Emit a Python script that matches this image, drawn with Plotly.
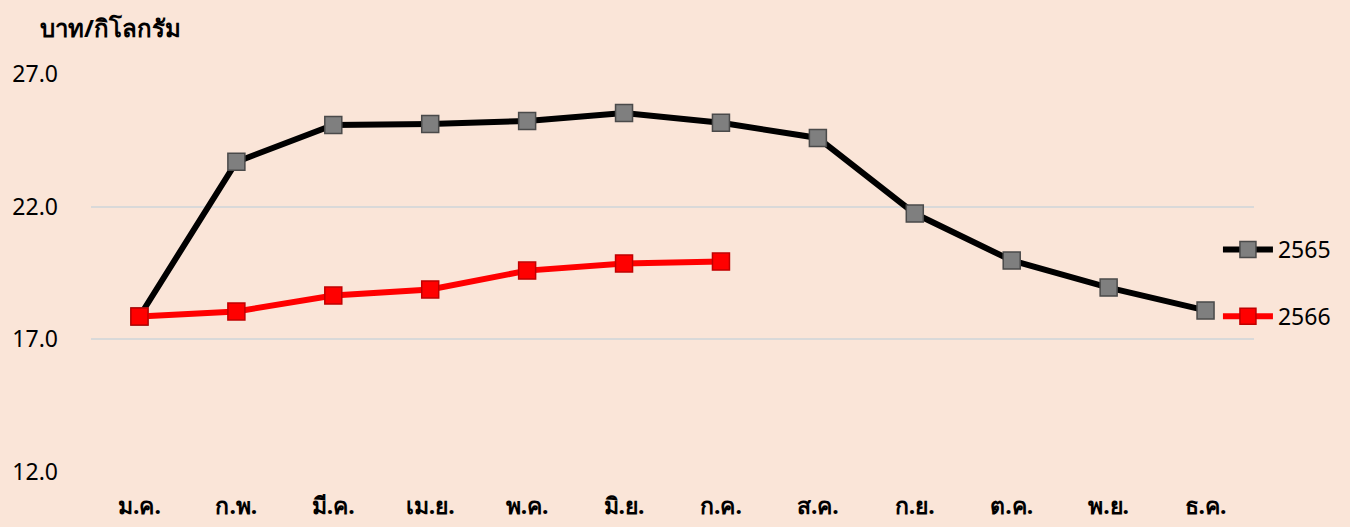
import plotly.graph_objects as go

months = ["ม.ค.", "ก.พ.", "มี.ค.", "เม.ย.", "พ.ค.", "มิ.ย.", "ก.ค.", "ส.ค.", "ก.ย.", "ต.ค.", "พ.ย.", "ธ.ค."]
y2565 = [17.86, 23.69, 25.08, 25.12, 25.23, 25.53, 25.16, 24.59, 21.74, 19.97, 18.95, 18.09]
y2566 = [17.86, 18.05, 18.65, 18.88, 19.59, 19.86, 19.93]
y_ticks = [12, 17, 22, 27]
unit_label = "บาท/กิโลกรัม"

BG = "#FAE5D8"
FONT = "Noto Sans, DejaVu Sans, sans-serif"

fig = go.Figure()
fig.add_trace(go.Scatter(
    x=months, y=y2565, name="2565", mode="lines+markers", legendgroup="a",
    line=dict(color="#000000", width=6),
    marker=dict(symbol="square", size=17, color="#7F7F7F", line=dict(color="#4A4A4A", width=1.5)),
))
fig.add_trace(go.Scatter(
    x=months[:len(y2566)], y=y2566, name="2566", mode="lines+markers", legendgroup="b",
    line=dict(color="#FF0000", width=6),
    marker=dict(symbol="square", size=17, color="#FF0000", line=dict(color="#C00000", width=1.5)),
))

fig.update_layout(
    width=1350, height=527,
    paper_bgcolor=BG, plot_bgcolor=BG,
    margin=dict(l=91, r=96, t=74, b=55),
    font=dict(family=FONT, color="#000000", size=20),
    showlegend=True,
    legend=dict(
        x=0.969, xanchor="left", y=0.475, yanchor="middle",
        bgcolor="rgba(0,0,0,0)", font=dict(size=23, color="#000000"),
        itemwidth=50, tracegroupgap=34,
    ),
    xaxis=dict(
        type="category", categoryorder="array", categoryarray=months,
        range=[-0.5, 11.5], showgrid=False, zeroline=False, showline=False,
        ticks="", tickfont=dict(size=23, color="#000000", family=FONT, weight="bold"),
        ticklabelstandoff=18, automargin=False,
    ),
    yaxis=dict(
        range=[12, 27], tickvals=y_ticks, tickformat=".1f",
        showgrid=True, gridcolor="#D9D9D9", gridwidth=2, zeroline=False,
        showline=False, ticks="", tickfont=dict(size=23, color="#000000"),
        ticklabelstandoff=32, automargin=False,
    ),
    annotations=[dict(
        text=unit_label, xref="paper", yref="paper", x=-0.046, y=1.118,
        xanchor="left", yanchor="middle", showarrow=False,
        font=dict(size=24, color="#000000", family=FONT, weight="bold"),
    )],
)

fig.write_html("out.html", config={"displayModeBar": False},
               post_script="document.body.style.margin='0';")
